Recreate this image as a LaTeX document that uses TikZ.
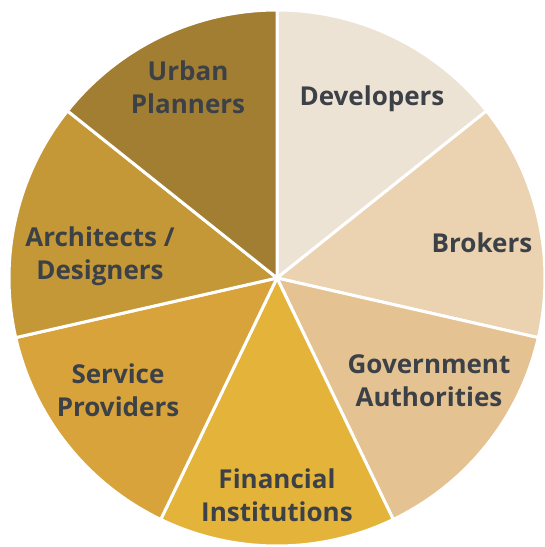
\documentclass[tikz,border=0pt]{standalone}
\usepackage{fontspec}
\setmainfont{Open Sans}
\usepackage{tikz}

\definecolor{devcol}{HTML}{EDE3D4}
\definecolor{brokcol}{HTML}{EBD2B0}
\definecolor{govcol}{HTML}{E4C292}
\definecolor{fincol}{HTML}{E4B43A}
\definecolor{servcol}{HTML}{D8A33A}
\definecolor{archcol}{HTML}{C49836}
\definecolor{urbcol}{HTML}{A27E32}
\definecolor{labelcol}{HTML}{3C4047}

\begin{document}
\begin{tikzpicture}[x=1pt,y=1pt]
  \tikzstyle{slice}=[draw=white,line width=3pt,line join=round]
  \tikzstyle{every node}=[text=labelcol,align=center,
    font=\fontsize{26}{33}\selectfont\bfseries]

  \useasboundingbox (0,0) rectangle (545,547);
  \coordinate (c) at (277,269);

  % seven equal slices, clockwise from the top
  \foreach \a/\col in {90/devcol, 38.571/brokcol, -12.857/govcol,
      -64.286/fincol, -115.714/servcol, -167.143/archcol, 141.429/urbcol}
    \path[slice,fill=\col] (c) -- ++(\a:268)
      arc[start angle=\a, end angle=\a-51.429, radius=268] -- cycle;

  \node (dev)  at (372,448) {Developers};
  \node (brok) at (482,304) {Brokers};
  \node (gov)  at (429,166) {Government\\Authorities};
  \node (fin)  at (277,52)  {Financial\\Institutions};
  \node (serv) at (118,157) {Service\\Providers};
  \node (arch) at (100,291) {Architects /\\Designers};
  \node (urb)  at (188,460) {Urban\\Planners};
\end{tikzpicture}
\end{document}
